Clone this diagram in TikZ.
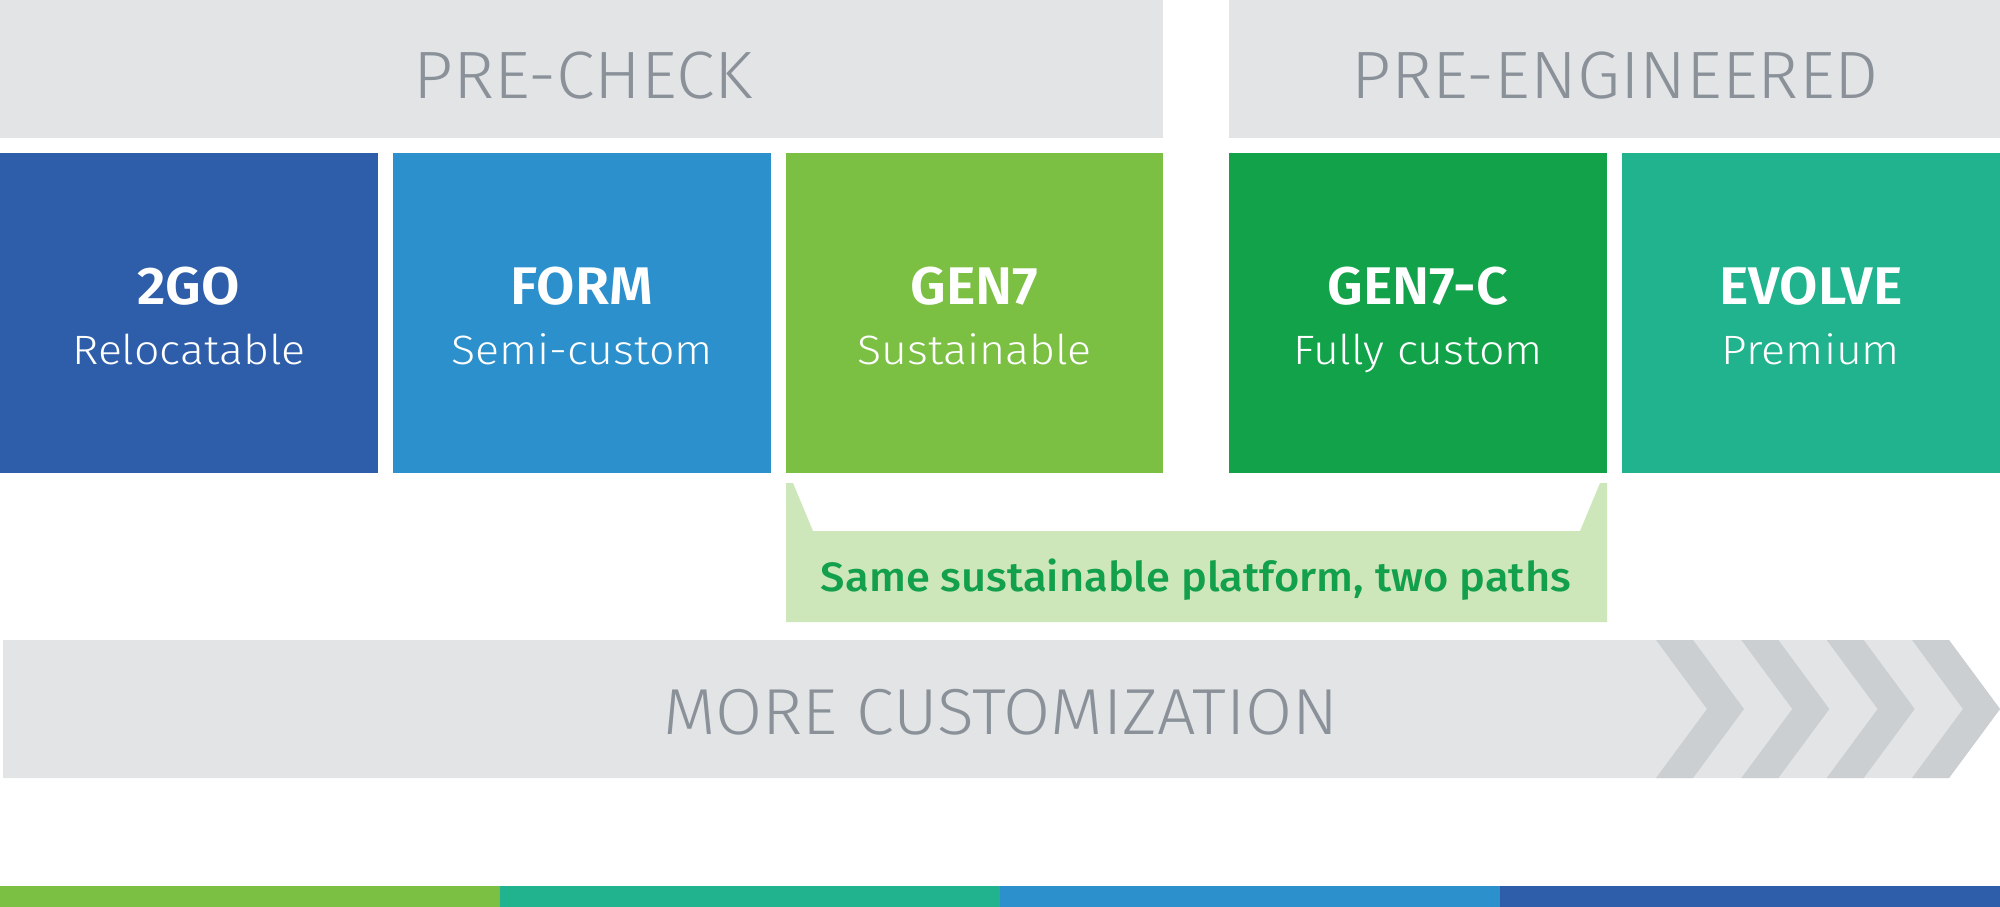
\documentclass[tikz,border=0pt]{standalone}
\usepackage{fontspec}
\IfFontExistsTF{Fira Sans Light}{\newfontfamily\flight{Fira Sans Light}}{%
  \IfFontExistsTF{Lato Light}{\newfontfamily\flight{Lato Light}}{\newfontfamily\flight{Fira Sans}}}
\IfFontExistsTF{Fira Sans Medium}{\newfontfamily\fmed{Fira Sans Medium}}{\newfontfamily\fmed{Fira Sans}}
\IfFontExistsTF{Fira Sans SemiBold}{\newfontfamily\fsemi{Fira Sans SemiBold}}{\newfontfamily\fsemi{Fira Sans Bold}}
\definecolor{ctwogo}{HTML}{2E5EA9}
\definecolor{cform}{HTML}{2B90CC}
\definecolor{cgen}{HTML}{7BBF43}
\definecolor{cgenc}{HTML}{12A34A}
\definecolor{cevolve}{HTML}{20B38E}
\definecolor{cband}{HTML}{E2E4E6}
\definecolor{cchev}{HTML}{CBCFD2}
\definecolor{cgtext}{HTML}{8A9199}
\definecolor{cbrfill}{HTML}{CDE6BA}
\definecolor{cbrtext}{HTML}{12A04A}
\tikzset{
  headtext/.style={anchor=base, inner sep=0pt, text=cgtext, font=\flight\addfontfeature{FakeStretch=1.04}\fontsize{67}{70}\selectfont},
  titletext/.style={anchor=base, inner sep=0pt, text=white, font=\fsemi\addfontfeature{FakeStretch=1.05}\fontsize{53}{56}\selectfont},
  subtext/.style={anchor=base, inner sep=0pt, text=white, font=\flight\addfontfeature{FakeStretch=1.09}\fontsize{41}{44}\selectfont},
  brtext/.style={anchor=base, inner sep=0pt, text=cbrtext, font=\fmed\addfontfeature{FakeStretch=1.06}\fontsize{41}{44}\selectfont},
  bandtext/.style={anchor=base, inner sep=0pt, text=cgtext, font=\flight\addfontfeature{FakeStretch=1.05}\fontsize{65}{68}\selectfont},
  chev/.style={fill=cchev},
}
\begin{document}
\begin{tikzpicture}[x=1pt,y=-1pt]
\useasboundingbox (0,0) rectangle (2000,907);
% header bands
\fill[cband] (0,0) rectangle (1163,138);
\fill[cband] (1229,0) rectangle (2000,138);
\node[headtext] (hpre) at (583,99) {PRE-CHECK};
\node[headtext] (hpeng) at (1615,99) {PRE-ENGINEERED};
% product boxes
\fill[ctwogo] (0,153) rectangle (378,473);
\fill[cform] (393,153) rectangle (771,473);
\fill[cgen] (786,153) rectangle (1163,473);
\fill[cgenc] (1229,153) rectangle (1607,473);
\fill[cevolve] (1622,153) rectangle (2000,473);
\node[titletext] (t1) at (189,304) {2GO};
\node[subtext] (s1) at (189,364) {Relocatable};
\node[titletext] (t2) at (582,304) {FORM};
\node[subtext] (s2) at (582,364) {Semi-custom};
\node[titletext] (t3) at (974.5,304) {GEN7};
\node[subtext] (s3) at (974.5,364) {Sustainable};
\node[titletext] (t4) at (1418,304) {GEN7-C};
\node[subtext] (s4) at (1418,364) {Fully custom};
\node[titletext] (t5) at (1811,304) {EVOLVE};
\node[subtext] (s5) at (1811,364) {Premium};
% bracket
\fill[cbrfill] (786,483) -- (793,483) -- (813,531) -- (1580,531) -- (1600,483) -- (1607,483) -- (1607,622) -- (786,622) -- cycle;
\node[brtext] (br) at (1196,591) {Same sustainable platform, two paths};
% customization arrow band
\fill[cband] (3,640) -- (1949,640) -- (2000,709) -- (1949,778) -- (3,778) -- cycle;
\foreach \x in {1656,1741.33,1826.67,1912} {
  \fill[chev] (\x,640) -- (\x+37,640) -- (\x+88,709) -- (\x+37,778) -- (\x,778) -- (\x+51,709) -- cycle;
}
\node[bandtext] (more) at (1001,734) {MORE CUSTOMIZATION};
% bottom colour bar
\fill[cgen] (0,886) rectangle (500,907);
\fill[cevolve] (500,886) rectangle (1000,907);
\fill[cform] (1000,886) rectangle (1500,907);
\fill[ctwogo] (1500,886) rectangle (2000,907);
\end{tikzpicture}
\end{document}
